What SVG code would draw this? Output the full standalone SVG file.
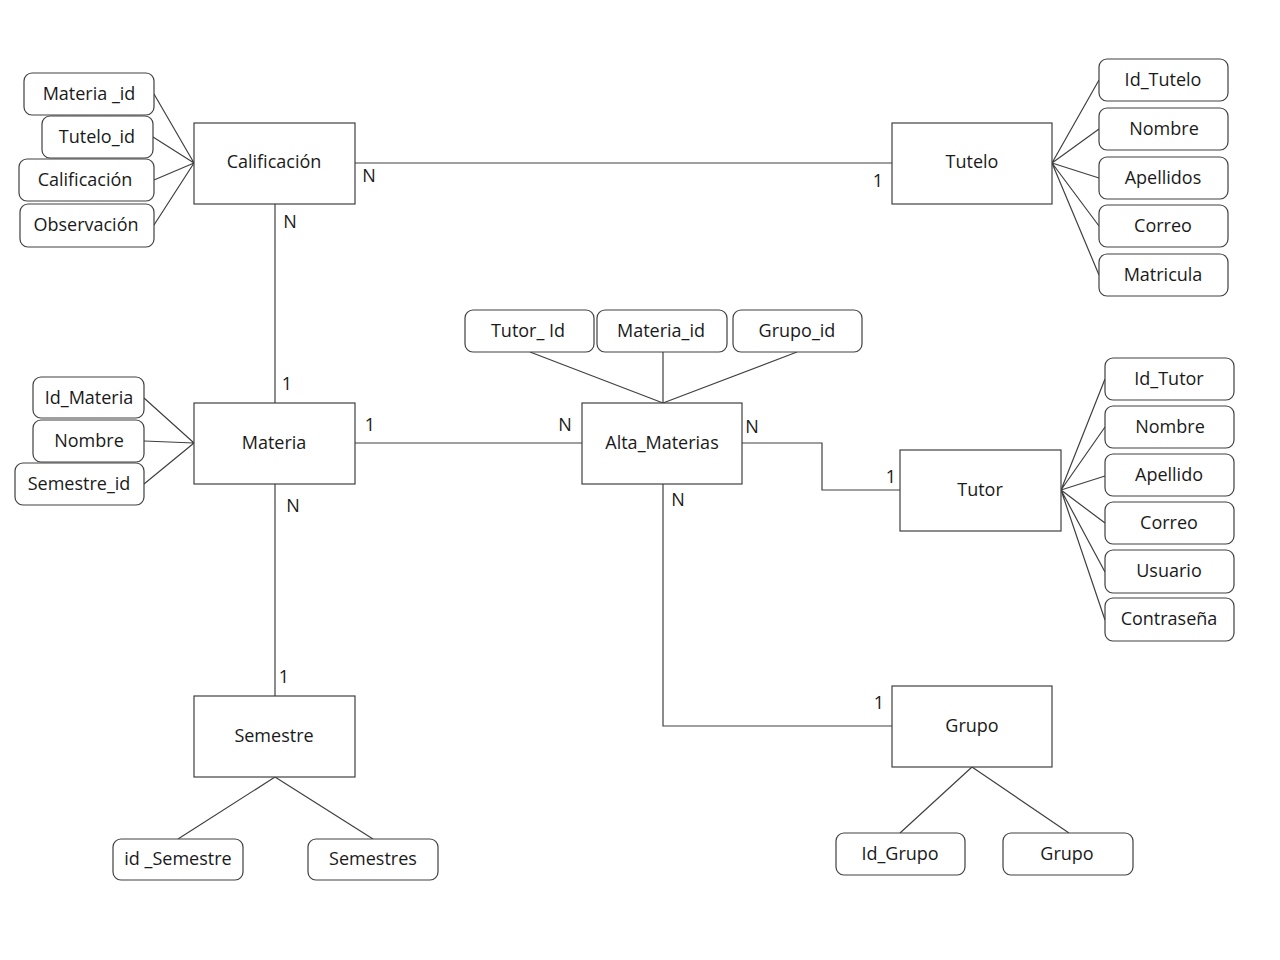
<svg xmlns="http://www.w3.org/2000/svg" width="1280" height="960" viewBox="0 0 1280 960">
<style>
.e{fill:#fff;stroke:#404040;stroke-width:1.2}
.a{fill:#fff;stroke:#404040;stroke-width:1.2}
.c{fill:none;stroke:#404040;stroke-width:1.2}
text{font-family:"Open Sans","Noto Sans",sans-serif;font-size:18px;fill:#1a1a1a;text-anchor:middle;dominant-baseline:central}
</style>
<rect width="1280" height="960" fill="#fff"/>
<g id="connectors">
<path class="c" d="M355 163H892"/>
<path class="c" d="M275 204V403"/>
<path class="c" d="M355 443H582"/>
<path class="c" d="M742 443H822V490H900"/>
<path class="c" d="M663 484V726H892"/>
<path class="c" d="M275 484V696"/>
<path class="c" d="M154 94L194 163M153 137L194 163M154 180L194 163M154 225L194 163"/>
<path class="c" d="M1052 163L1099 80M1052 163L1099 129M1052 163L1099 178M1052 163L1099 226M1052 163L1099 275"/>
<path class="c" d="M144 398L194 443M144 441L194 443M144 484L194 443"/>
<path class="c" d="M530 352L663 403M663 352L663 403M797 352L663 403"/>
<path class="c" d="M1061 490L1105 379M1061 490L1105 427M1061 490L1105 476M1061 490L1105 523M1061 490L1105 572M1061 490L1105 620"/>
<path class="c" d="M275 777L178 839M275 777L373 839"/>
<path class="c" d="M972 767L900 833M972 767L1069 833"/>
<text x="369" y="175">N</text>
<text x="878" y="180">1</text>
<text x="290" y="221">N</text>
<text x="287" y="383">1</text>
<text x="370" y="424">1</text>
<text x="565" y="424">N</text>
<text x="752" y="426">N</text>
<text x="891" y="476">1</text>
<text x="678" y="499">N</text>
<text x="879" y="702">1</text>
<text x="293" y="505">N</text>
<text x="284" y="676">1</text>
</g>
<g id="calificacion"><rect class="e" x="194" y="123" width="161" height="81"/><text x="274" y="161">Calificación</text></g>
<g id="tutelo"><rect class="e" x="892" y="123" width="160" height="81"/><text x="972" y="161">Tutelo</text></g>
<g id="materia"><rect class="e" x="194" y="403" width="161" height="81"/><text x="274" y="442">Materia</text></g>
<g id="alta_materias"><rect class="e" x="582" y="403" width="160" height="81"/><text x="662" y="442">Alta_Materias</text></g>
<g id="tutor"><rect class="e" x="900" y="450" width="161" height="81"/><text x="980" y="489">Tutor</text></g>
<g id="semestre"><rect class="e" x="194" y="696" width="161" height="81"/><text x="274" y="735">Semestre</text></g>
<g id="grupo"><rect class="e" x="892" y="686" width="160" height="81"/><text x="972" y="725">Grupo</text></g>
<g id="attr-cal-materia_id"><rect class="a" x="24" y="73" width="130" height="42" rx="8"/><text x="89" y="93">Materia _id</text></g>
<g id="attr-cal-tutelo_id"><rect class="a" x="42" y="116" width="111" height="42" rx="8"/><text x="97" y="136">Tutelo_id</text></g>
<g id="attr-cal-calificacion"><rect class="a" x="19" y="159" width="135" height="42" rx="8"/><text x="85" y="179">Calificación</text></g>
<g id="attr-cal-observacion"><rect class="a" x="20" y="204" width="134" height="43" rx="8"/><text x="86" y="224">Observación</text></g>
<g id="attr-tutelo-id"><rect class="a" x="1099" y="59" width="129" height="42" rx="8"/><text x="1163" y="79">Id_Tutelo</text></g>
<g id="attr-tutelo-nombre"><rect class="a" x="1099" y="108" width="129" height="42" rx="8"/><text x="1164" y="128">Nombre</text></g>
<g id="attr-tutelo-apellidos"><rect class="a" x="1099" y="157" width="129" height="42" rx="8"/><text x="1163" y="177">Apellidos</text></g>
<g id="attr-tutelo-correo"><rect class="a" x="1099" y="205" width="129" height="42" rx="8"/><text x="1163" y="225">Correo</text></g>
<g id="attr-tutelo-matricula"><rect class="a" x="1099" y="254" width="129" height="42" rx="8"/><text x="1163" y="274">Matricula</text></g>
<g id="attr-materia-id"><rect class="a" x="33" y="377" width="111" height="41" rx="8"/><text x="89" y="397">Id_Materia</text></g>
<g id="attr-materia-nombre"><rect class="a" x="33" y="420" width="111" height="42" rx="8"/><text x="89" y="440">Nombre</text></g>
<g id="attr-materia-semestre_id"><rect class="a" x="15" y="463" width="129" height="42" rx="8"/><text x="79" y="483">Semestre_id</text></g>
<g id="attr-alta-tutor_id"><rect class="a" x="465" y="310" width="129" height="42" rx="8"/><text x="528" y="330">Tutor_ Id</text></g>
<g id="attr-alta-materia_id"><rect class="a" x="597" y="310" width="130" height="42" rx="8"/><text x="661" y="330">Materia_id</text></g>
<g id="attr-alta-grupo_id"><rect class="a" x="733" y="310" width="129" height="42" rx="8"/><text x="797" y="330">Grupo_id</text></g>
<g id="attr-tutor-id"><rect class="a" x="1105" y="358" width="129" height="42" rx="8"/><text x="1169" y="378">Id_Tutor</text></g>
<g id="attr-tutor-nombre"><rect class="a" x="1105" y="406" width="129" height="42" rx="8"/><text x="1170" y="426">Nombre</text></g>
<g id="attr-tutor-apellido"><rect class="a" x="1105" y="454" width="129" height="42" rx="8"/><text x="1169" y="474">Apellido</text></g>
<g id="attr-tutor-correo"><rect class="a" x="1105" y="502" width="129" height="42" rx="8"/><text x="1169" y="522">Correo</text></g>
<g id="attr-tutor-usuario"><rect class="a" x="1105" y="550" width="129" height="43" rx="8"/><text x="1169" y="570">Usuario</text></g>
<g id="attr-tutor-contrasena"><rect class="a" x="1105" y="598" width="129" height="43" rx="8"/><text x="1169" y="618">Contraseña</text></g>
<g id="attr-semestre-id"><rect class="a" x="113" y="839" width="130" height="41" rx="8"/><text x="178" y="858">id _Semestre</text></g>
<g id="attr-semestre-semestres"><rect class="a" x="308" y="839" width="130" height="41" rx="8"/><text x="373" y="858">Semestres</text></g>
<g id="attr-grupo-id"><rect class="a" x="836" y="833" width="129" height="42" rx="8"/><text x="900" y="853">Id_Grupo</text></g>
<g id="attr-grupo-grupo"><rect class="a" x="1003" y="833" width="130" height="42" rx="8"/><text x="1067" y="853">Grupo</text></g>
</svg>
